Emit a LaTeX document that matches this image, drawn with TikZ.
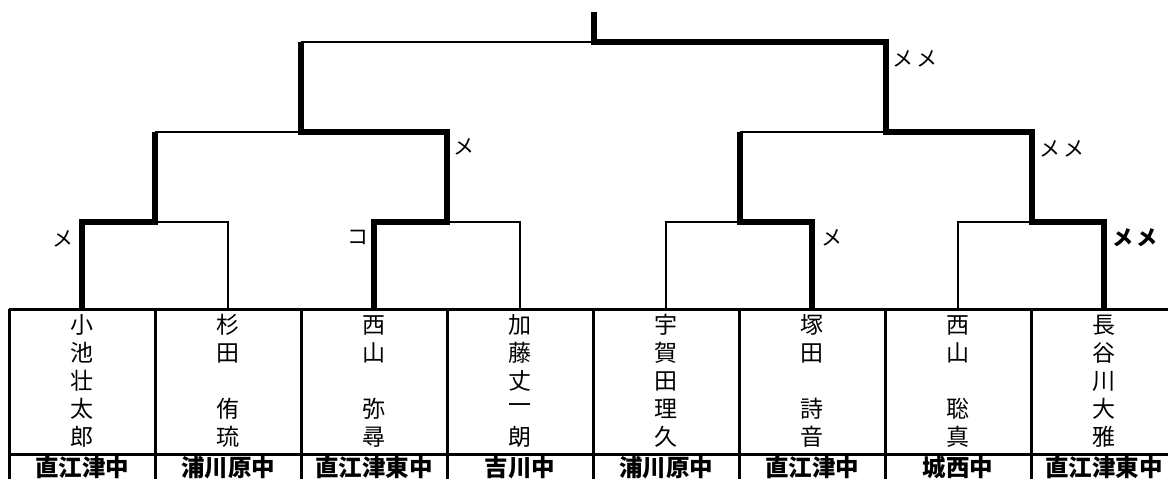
\documentclass[tikz,border=0pt]{standalone}
\usepackage{fontspec}
\newfontfamily\jp{Noto Sans CJK JP}
\begin{document}
\begin{tikzpicture}[x=1pt,y=-1pt,
  loser/.style={line width=2.8pt,line join=miter},
  winner/.style={line width=6pt,line join=miter},
  grid/.style={line width=3pt},
  namech/.style={inner sep=0pt,font=\jp\fontsize{23}{23}\selectfont},
  school/.style={inner sep=0pt,font=\jp\bfseries\fontsize{23.5}{23.5}\selectfont},
  scoremark/.style={inner sep=0pt,font=\jp\fontsize{21}{21}\selectfont},
  boldscoremark/.style={inner sep=0pt,font=\jp\bfseries\fontsize{21}{21}\selectfont}]
\useasboundingbox (0,0) rectangle (1168,479);
\fill[white] (0,0) rectangle (1168,479);
% leaf coordinates (top of table)
\foreach \k/\x in {1/82,2/228,3/374,4/520,5/666,6/812,7/958,8/1104}{
  \coordinate (L\k) at (\x,309);
  \coordinate (T\k) at (\x,222);
}
\coordinate (A1) at (155,222); \coordinate (A1u) at (155,132);
\coordinate (A2) at (447,222); \coordinate (A2u) at (447,132);
\coordinate (A3) at (740,222); \coordinate (A3u) at (740,132);
\coordinate (A4) at (1032,222); \coordinate (A4u) at (1032,132);
\coordinate (B1) at (301,132); \coordinate (B1u) at (301,42);
\coordinate (B2) at (886,132); \coordinate (B2u) at (886,42);
\coordinate (C) at (594,42); \coordinate (Cu) at (594,12);
% losers (thin)
\draw[loser] (L2) -- (T2) -- (A1);
\draw[loser] (L4) -- (T4) -- (A2);
\draw[loser] (L5) -- (T5) -- (A3);
\draw[loser] (L7) -- (T7) -- (A4);
\draw[loser] (A1u) -- (B1);
\draw[loser] (A3u) -- (B2);
\draw[loser] (B1u) -- (C);
% winners (thick)
\draw[winner] (L1) -- (T1) -- (A1) -- (A1u);
\draw[winner] (L3) -- (T3) -- (A2) -- (A2u) -- (B1) -- (B1u);
\draw[winner] (L6) -- (T6) -- (A3) -- (A3u);
\draw[winner] (L8) -- (T8) -- (A4) -- (A4u) -- (B2) -- (B2u) -- (C) -- (Cu);
% table
\draw[grid] (9,309) -- (1177,309);
\draw[grid] (9,454) -- (1177,454);
\foreach \k in {0,...,8}{
  \draw[grid] ({9+146*\k},309) -- ({9+146*\k},495);
}
% names
\newcommand{\plname}[3]{%
  \foreach \c [count=\i] in {#3} {\node[namech] (p#1-\i) at (#2,{325+28*(\i-1)}) {\c};}}
\plname{1}{82}{小,池,壮,太,郎}
\plname{2}{228}{杉,田,{},侑,琉}
\plname{3}{374}{西,山,{},弥,尋}
\plname{4}{520}{加,藤,丈,一,朗}
\plname{5}{666}{宇,賀,田,理,久}
\plname{6}{812}{塚,田,{},詩,音}
\plname{7}{958}{西,山,{},聡,真}
\plname{8}{1104}{長,谷,川,大,雅}
% schools
\node[school] (s1) at (82,468) {直江津中};
\node[school] (s2) at (228,468) {浦川原中};
\node[school] (s3) at (374,468) {直江津東中};
\node[school] (s4) at (520,468) {吉川中};
\node[school] (s5) at (666,468) {浦川原中};
\node[school] (s6) at (812,468) {直江津中};
\node[school] (s7) at (958,468) {城西中};
\node[school] (s8) at (1104,468) {直江津東中};
% marks
\node[scoremark] (m1) at (63,239) {メ};
\node[scoremark] (m2) at (358,237) {コ};
\node[scoremark] (m3) at (464,147) {メ};
\node[scoremark] (m4) at (832,238) {メ};
\node[scoremark] (m5) at (915,59) {メ\hspace{3pt}メ};
\node[scoremark] (m6) at (1062,149) {メ\hspace{3pt}メ};
\node[boldscoremark] (m7) at (1135,238) {メ\hspace{3pt}メ};
\end{tikzpicture}
\end{document}
